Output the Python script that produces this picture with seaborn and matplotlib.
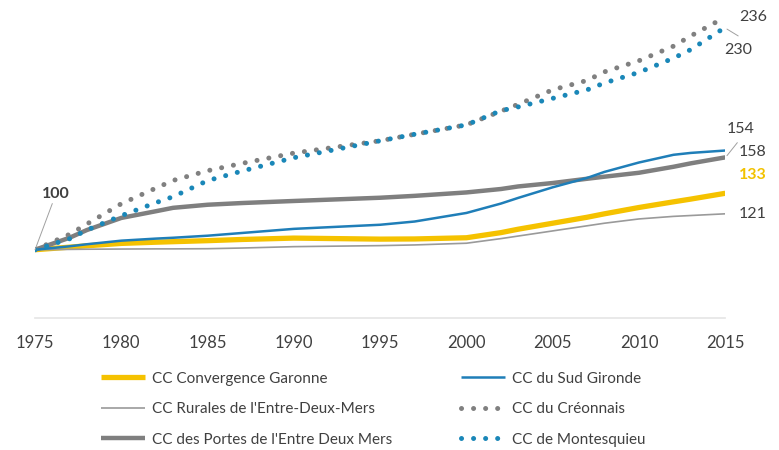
import pandas as pd
import seaborn as sns
import matplotlib
matplotlib.use("Agg")
import matplotlib.pyplot as plt

# Population index, base 100 in 1975
years = [1975, 1977, 1978, 1980, 1982, 1983, 1985, 1987, 1990, 1995, 1997,
         2000, 2002, 2003, 2005, 2007, 2008, 2010, 2012, 2013, 2015]
convergence = [100, 101.5, 102.3, 103.7, 104.4, 104.7, 105.3, 106, 106.8, 106.2, 106.3,
               107, 110, 112, 115.5, 119, 121, 124.7, 128, 129.6, 133]
sud_gironde = [100, 102, 103.2, 105.3, 106.5, 107, 108.2, 109.8, 112.2, 114.6, 116.5,
               121.5, 127, 130.3, 136.5, 142, 145.5, 151, 155.5, 156.6, 158]
rurales = [100, 100.2, 100.3, 100.4, 100.5, 100.5, 100.6, 101, 101.8, 102.4, 102.8,
           103.8, 106.5, 108, 111, 114, 115.5, 118, 119.5, 120, 121]
creonnais = [100, 109, 115, 126.9, 136, 140.5, 146.2, 150.5, 156.5, 163.7, 167.5,
             173, 181, 185, 193.5, 199, 204, 210.5, 219, 225, 236]
portes = [100, 107, 111.5, 118.6, 122.5, 124.5, 126.3, 127.3, 128.5, 130.4, 131.5,
          133.5, 135.5, 137, 139, 141.5, 142.7, 145, 148.5, 150.5, 154]
montesquieu = [100, 106.4, 111.5, 119.9, 127.5, 131, 140.4, 146, 153.8, 163.7, 167.5,
               173, 181.3, 183.5, 188.5, 193.5, 197.5, 203.7, 212, 217, 230]

names = ["CC Convergence Garonne", "CC Rurales de l'Entre-Deux-Mers",
         "CC des Portes de l'Entre Deux Mers", "CC du Sud Gironde",
         "CC du Créonnais", "CC de Montesquieu"]
series = [convergence, rurales, portes, sud_gironde, creonnais, montesquieu]

df = pd.DataFrame({"year": years * len(names),
                   "index": [v for s in series for v in s],
                   "zone": [n for n in names for _ in years]})

sns.set_theme(style="white")
plt.rcParams['font.family'] = ['Lato', 'DejaVu Sans']

dark = "#404040"
styles = {
    "CC Convergence Garonne": dict(color="#F5C200", lw=3.8, ls="-"),
    "CC Rurales de l'Entre-Deux-Mers": dict(color="#9A9A9A", lw=1.2, ls="-"),
    "CC des Portes de l'Entre Deux Mers": dict(color="#7F7F7F", lw=3.2, ls="-"),
    "CC du Sud Gironde": dict(color="#1F7EB8", lw=1.8, ls="-"),
    "CC du Créonnais": dict(color="#808080", lw=3.6, ls=(0, (0.01, 2.4))),
    "CC de Montesquieu": dict(color="#1A87B8", lw=3.6, ls=(0, (0.01, 2.4))),
}

fig = plt.figure(figsize=(7.79, 4.5), dpi=100)
ax = fig.add_axes([0.045, 0.293, 0.886, 0.707])

for name in names:
    st = styles[name]
    sns.lineplot(data=df[df["zone"] == name], x="year", y="index", ax=ax,
                 color=st["color"], linewidth=st["lw"], label=name)
    l = ax.lines[-1]
    l.set_linestyle(st["ls"])
    l.set_dash_capstyle("round")
    l.set_solid_capstyle("butt")
    l.set_solid_joinstyle("round")

ax.set_xlim(1975, 2015)
ax.set_ylim(60, 246)
ax.set_xticks(range(1975, 2016, 5))
ax.set_yticks([])
ax.set_xlabel("")
ax.set_ylabel("")
for s in ["top", "right", "left"]:
    ax.spines[s].set_visible(False)
ax.spines["bottom"].set_color("#E6E6E6")
ax.tick_params(axis="x", length=0, pad=12, labelsize=12, labelcolor=dark)

# value labels
lbl = dict(fontsize=11.5, color=dark, ha="center", va="center", clip_on=False)
ax.text(1976.2, 132.7, "100", fontweight="bold", **lbl)
ax.plot([1976.0, 1975.0], [127.0, 100.0], color="#A0A0A0", lw=0.7, clip_on=False)
ax.text(2016.6, 236.3, "236", **lbl)
ax.text(2015.75, 217, "230", **lbl)
ax.plot([2015.1, 2015.75], [229, 225], color="#A0A0A0", lw=0.7, clip_on=False)
ax.text(2015.9, 170.8, "154", **lbl)
ax.plot([2015.7, 2015.1], [162.6, 155.0], color="#A0A0A0", lw=0.7, clip_on=False)
ax.text(2016.6, 157.3, "158", **lbl)
ax.text(2016.6, 143.9, "133", fontsize=11.5, color="#F2C200", fontweight="bold",
        ha="center", va="center", clip_on=False)
ax.text(2016.6, 121, "121", **lbl)

handles, labels = ax.get_legend_handles_labels()
for h, name in zip(handles, labels):
    st = styles[name]
    h.set_linestyle(st["ls"])
    h.set_dash_capstyle("round")
leg = ax.legend(handles, labels, ncol=2, frameon=False, fontsize=11,
                loc="upper left", bbox_to_anchor=(0.075, -0.125),
                handlelength=2.9, handletextpad=0.45, columnspacing=4.5,
                labelspacing=1.08, labelcolor=dark)

fig.savefig("out.png", dpi=100)
